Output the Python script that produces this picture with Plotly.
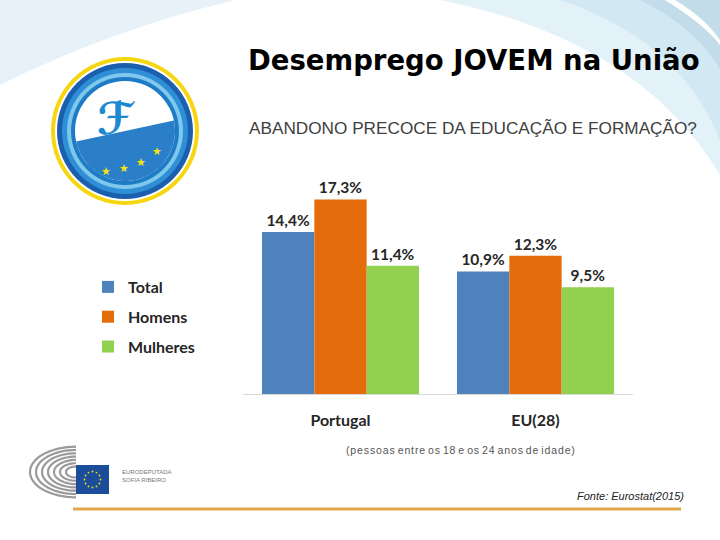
import plotly.graph_objects as go
import math

# ---- data ----
categories = ["Portugal", "EU(28)"]
series_names = ["Total", "Homens", "Mulheres"]
total = [14.4, 10.9]
homens = [17.3, 12.3]
mulheres = [11.4, 9.5]
colors = ["#4f81bd", "#e46c0a", "#92d050"]

W, H = 720, 540
def px(x):
    return x / W
def py(y):
    return 1 - y / H

fig = go.Figure()
for name, vals, col in zip(series_names, [total, homens, mulheres], colors):
    fig.add_trace(go.Bar(
        x=categories, y=vals, name=name, marker_color=col, marker_line_width=0,
        texttemplate="%{y:.1f}%", textposition="outside", cliponaxis=False,
        textfont=dict(family="Lato", size=15.5, color="#262626", weight="bold"),
        legendgroup=name,
    ))

shapes = []
# background swooshes (top-left)
shapes.append(dict(type="path", xref="paper", yref="paper",
    path=f"M 0 1 L {px(235)} 1 Q {px(110)} {py(30)} 0 {py(85)} Z",
    fillcolor="#e6f2f8", line_width=0, layer="below"))
# top-right swooshes
shapes.append(dict(type="path", xref="paper", yref="paper",
    path=f"M {px(440)} 1 Q {px(640)} {py(40)} 1 {py(175)} L 1 1 Z",
    fillcolor="#e3f1f8", line_width=0, layer="below"))
shapes.append(dict(type="path", xref="paper", yref="paper",
    path=f"M {px(560)} 1 Q {px(680)} {py(40)} 1 {py(140)} L 1 1 Z",
    fillcolor="#d2e8f3", line_width=0, layer="below"))
shapes.append(dict(type="path", xref="paper", yref="paper",
    path=f"M {px(640)} 1 Q {px(700)} {py(30)} 1 {py(70)} L 1 1 Z",
    fillcolor="#c3dcea", line_width=0, layer="below"))
shapes.append(dict(type="path", xref="paper", yref="paper",
    path=f"M {px(665)} 1 Q {px(705)} {py(25)} 1 {py(45)} L 1 {py(40)} Q {px(705)} {py(18)} {px(675)} 1 Z",
    fillcolor="#ffffff", line_width=0, layer="below"))

# logo circles
cx, cy = 125, 131
def circ(r, color, x0=None, y0=None):
    x0 = cx if x0 is None else x0
    y0 = cy if y0 is None else y0
    return dict(type="circle", xref="paper", yref="paper",
                x0=px(x0 - r), x1=px(x0 + r), y0=py(y0 + r), y1=py(y0 - r),
                fillcolor=color, line_width=0, layer="above")
shapes += [circ(74, "#f5d60f"), circ(70, "#ffffff"), circ(68, "#1b5fae"),
           circ(63, "#2f8fd6"), circ(58, "#7fc8ec"), circ(54, "#1e7cc6"),
           circ(50, "#ffffff")]
# lower blue segment inside logo (circle bottom cut by a chord)
seg = []
for i in range(0, 41):
    t = math.radians(-12 + (168 - (-12)) * i / 40)
    seg.append((px(cx + 50 * math.cos(t)), py(cy + 50 * math.sin(t))))
seg_path = "M " + " L ".join(f"{a:.5f} {b:.5f}" for a, b in seg) + " Z"
shapes.append(dict(type="path", xref="paper", yref="paper", path=seg_path,
    fillcolor="#2b7fc9", line_width=0, layer="above"))

# EU parliament logo: arcs
ex, ey = 76, 472
for r in [10, 16, 22, 28, 34, 40, 46]:
    pts = []
    for i in range(0, 33):
        a = math.radians(90 + 180 * i / 32)
        pts.append((px(ex + r * math.cos(a)), py(ey - r * math.sin(a) * 0.55)))
    path = "M " + " L ".join(f"{a:.5f} {b:.5f}" for a, b in pts)
    shapes.append(dict(type="path", xref="paper", yref="paper", path=path,
                       line=dict(color="#9a9a9a", width=2.2)))
shapes.append(dict(type="rect", xref="paper", yref="paper",
    x0=px(76), x1=px(109), y0=py(494), y1=py(465), fillcolor="#1b4d9b", line_width=0))
for k in range(12):
    a = 2 * math.pi * k / 12
    shapes.append(circ(0.9, "#f3dc1a", 92.5 + 8 * math.cos(a), 479.5 + 8 * math.sin(a)))

# golden bottom line
shapes.append(dict(type="line", xref="paper", yref="paper",
    x0=px(73), x1=px(681), y0=py(509), y1=py(509), line=dict(color="#e0a84a", width=3)))

annotations = []
annotations.append(dict(text="<b>Desemprego JOVEM na União</b>", x=px(474), y=py(60),
    xref="paper", yref="paper", showarrow=False, xanchor="center", yanchor="middle",
    font=dict(family="DejaVu Sans", size=27.5, color="#000000")))
annotations.append(dict(text="ABANDONO PRECOCE DA EDUCAÇÃO E FORMAÇÃO?", x=px(473), y=py(128),
    xref="paper", yref="paper", showarrow=False, xanchor="center", yanchor="middle",
    font=dict(family="Liberation Sans", size=17.2, color="#404040")))
hs = "\u200a"
sub_note = "(pessoas entre os 18 e os 24 anos de idade)"
sub_note_spaced = " ".join(hs.join(list(w)) for w in sub_note.split(" "))
annotations.append(dict(text=sub_note_spaced,
    x=px(461), y=py(450), xref="paper", yref="paper", showarrow=False,
    xanchor="center", yanchor="middle",
    font=dict(family="Liberation Sans Narrow, Liberation Sans", size=10.5, color="#555555")))
annotations.append(dict(text="<i>Fonte: Eurostat(2015)</i>", x=px(686), y=py(496),
    xref="paper", yref="paper", showarrow=False, xanchor="right", yanchor="middle",
    font=dict(family="Liberation Sans Narrow, Liberation Sans", size=11, color="#222222")))
annotations.append(dict(text="EURODEPUTADA<br>SOFIA RIBEIRO", x=px(120), y=py(476),
    xref="paper", yref="paper", showarrow=False, xanchor="left", yanchor="middle",
    align="left", font=dict(family="Liberation Sans", size=6, color="#777777")))
# logo glyph and stars
annotations.append(dict(text="<b>ℱ</b>", x=px(116), y=py(118), xref="paper", yref="paper",
    showarrow=False, xanchor="center", yanchor="middle",
    font=dict(family="DejaVu Sans", size=44, color="#1e88d0")))
for sx, sy in [(106, 171), (124, 169), (141, 163), (157, 152)]:
    annotations.append(dict(text="★", x=px(sx), y=py(sy), xref="paper", yref="paper",
        showarrow=False, xanchor="center", yanchor="middle",
        font=dict(family="DejaVu Sans", size=11, color="#f5e20f")))

fig.update_layout(
    width=W, height=H,
    margin=dict(l=0, r=0, t=0, b=0),
    paper_bgcolor="#ffffff", plot_bgcolor="rgba(0,0,0,0)",
    barmode="group", bargap=0.195, bargroupgap=0,
    separators=",.",
    showlegend=True,
    legend=dict(x=px(88), y=py(270), xanchor="left", yanchor="top",
                font=dict(family="Lato", size=16, color="#262626", weight="bold"),
                tracegroupgap=6, bgcolor="rgba(0,0,0,0)"),
    xaxis=dict(domain=[px(243), px(633)], range=[-0.5, 1.5], showline=True,
               linecolor="#d9d9d9", linewidth=1, ticks="", showgrid=False,
               tickfont=dict(family="Lato", size=16, color="#262626", weight="bold"),
               ticklabelstandoff=12),
    yaxis=dict(domain=[py(394), py(169)], range=[0, 20], visible=False, showgrid=False),
    shapes=shapes, annotations=annotations,
)

fig.write_html("out.html", config={"displayModeBar": False},
               post_script="document.body.style.margin='0px';document.body.style.padding='0px';")
